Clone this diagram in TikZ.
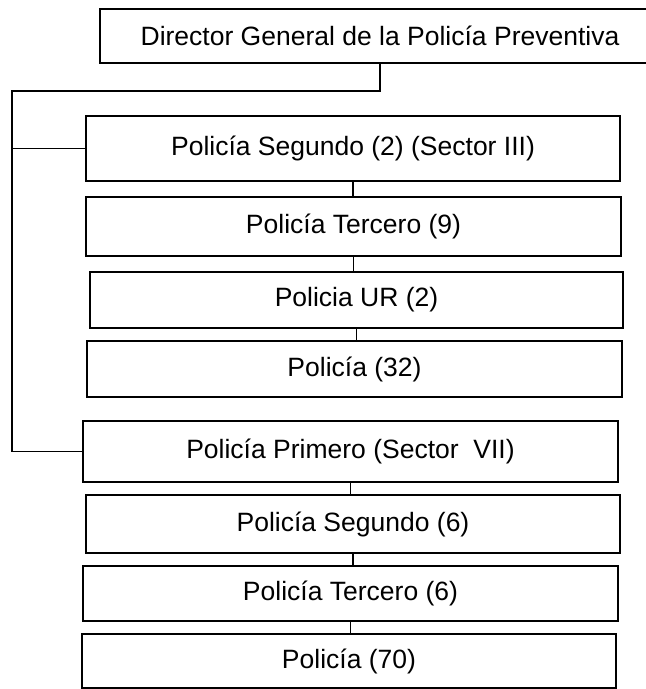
\documentclass[tikz,border=0pt]{standalone}
\usepackage{fontspec}
\setmainfont{Liberation Sans}
\begin{document}
\begin{tikzpicture}[x=1pt,y=-1pt,
  box/.style={draw=black,line width=1.2pt,rectangle,inner sep=0pt,
    font=\fontsize{26.5}{30}\selectfont,anchor=center},
  conn/.style={draw=black,line width=1.2pt}]
\useasboundingbox (0,0) rectangle (646,689);
\fill[white] (0,0) rectangle (646,689);
\node[box,minimum width=560pt,minimum height=54pt] (dir) at (380,36) {Director General de la Policía Preventiva};
\node[box,minimum width=534pt,minimum height=65pt] (s2) at (353,148.5) {Policía Segundo (2) (Sector III)};
\node[box,minimum width=535pt,minimum height=59pt] (t9) at (353.5,226.5) {Policía Tercero (9)};
\node[box,minimum width=533pt,minimum height=56pt] (ur) at (356.5,300) {Policia UR (2)};
\node[box,minimum width=535pt,minimum height=56pt] (p32) at (354.5,369) {Policía (32)};
\node[box,minimum width=535pt,minimum height=61pt] (pri) at (350.5,451.5) {Policía Primero (Sector\ \ VII)};
\node[box,minimum width=534pt,minimum height=58pt] (s6) at (353,524) {Policía Segundo (6)};
\node[box,minimum width=535pt,minimum height=55pt] (t6) at (350.5,593.5) {Policía Tercero (6)};
\node[box,minimum width=534pt,minimum height=54pt] (p70) at (349,661) {Policía (70)};
\coordinate (k) at (12,91);
\draw[conn] (dir.south) |- (k) |- (pri.west);
\draw[conn] (k |- s2.west) -- (s2.west);
\draw[conn] (s2.south) -- (s2.south |- t9.north);
\draw[conn] (t9.south) -- (t9.south |- ur.north);
\draw[conn] (ur.south) -- (ur.south |- p32.north);
\draw[conn] (pri.south) -- (pri.south |- s6.north);
\draw[conn] (s6.south) -- (s6.south |- t6.north);
\draw[conn] (t6.south) -- (t6.south |- p70.north);
\end{tikzpicture}
\end{document}
